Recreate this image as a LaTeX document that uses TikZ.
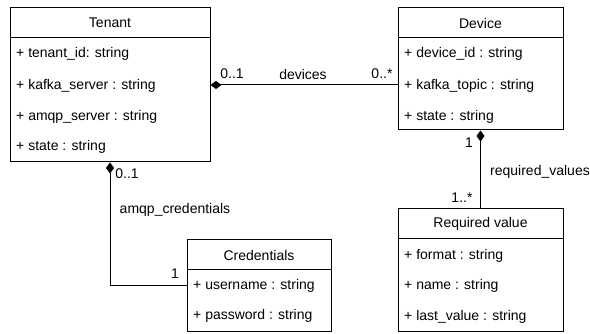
\documentclass[tikz,border=0pt]{standalone}
\usepackage{fontspec}
\setmainfont{Liberation Sans}
\usetikzlibrary{arrows.meta}
\tikzset{
  classbox/.style={draw=black, line width=1pt, fill=white, inner sep=0pt},
  attr/.style={anchor=west, inner sep=0pt, font=\fontsize{14}{16}\selectfont},
  head/.style={inner sep=0pt, font=\fontsize{14}{16}\selectfont},
  lbl/.style={inner sep=0pt, font=\fontsize{14}{16}\selectfont},
  conn/.style={draw=black, line width=1pt},
  comp/.style={{Diamond[length=11pt,width=8pt,fill=black]}-}
}
\begin{document}
\begin{tikzpicture}[x=1pt,y=-1pt]
\useasboundingbox (0,0) rectangle (590,334);
% Tenant
\node[classbox, minimum width=200pt, minimum height=154pt] (tenant) at (110,85) {};
\draw[line width=1pt] (10,38) -- (210,38);
\node[head] (tenantT) at (110,23) {Tenant};
\node[attr] (t1) at (16,54) {+ tenant\_id: string};
\node[attr] (t2) at (16,86) {+ kafka\_server : string};
\node[attr] (t3) at (16,117) {+ amqp\_server : string};
\node[attr] (t4) at (16,147) {+ state : string};
% Device
\node[classbox, minimum width=165pt, minimum height=122pt] (device) at (480.5,69) {};
\draw[line width=1pt] (398,38) -- (563,38);
\node[head] (deviceT) at (480.5,23) {Device};
\node[attr] (d1) at (404,54) {+ device\_id : string};
\node[attr] (d2) at (404,86) {+ kafka\_topic : string};
\node[attr] (d3) at (404,117) {+ state : string};
% Required value
\node[classbox, minimum width=165pt, minimum height=123pt] (req) at (480.5,270.5) {};
\draw[line width=1pt] (398,239) -- (563,239);
\node[head] (reqT) at (480.5,224) {Required value};
\node[attr] (r1) at (404,256) {+ format : string};
\node[attr] (r2) at (404,286) {+ name : string};
\node[attr] (r3) at (404,317) {+ last\_value : string};
% Credentials
\node[classbox, minimum width=144pt, minimum height=92pt] (cred) at (259,286) {};
\draw[line width=1pt] (187,270) -- (331,270);
\node[head] (credT) at (259,255) {Credentials};
\node[attr] (c1) at (193,286) {+ username : string};
\node[attr] (c2) at (193,316) {+ password : string};
% connectors
\draw[conn, comp] (tenant.east) -- (tenant.east -| device.west);
\draw[conn, comp] (device.south) -- (req.north);
\draw[conn, comp] (tenant.south) |- (cred.west);
% labels
\node[lbl] (l1) at (232,74) {0..1};
\node[lbl] (l2) at (303,74) {devices};
\node[lbl] (l3) at (382,74) {0..*};
\node[lbl] (l4) at (469,143) {1};
\node[lbl, anchor=west] (l5) at (490,172) {required\_values};
\node[lbl] (l6) at (462,198) {1..*};
\node[lbl] (l7) at (127,174) {0..1};
\node[lbl] (l8) at (175,210) {amqp\_credentials};
\node[lbl] (l9) at (175,274) {1};
\end{tikzpicture}
\end{document}
